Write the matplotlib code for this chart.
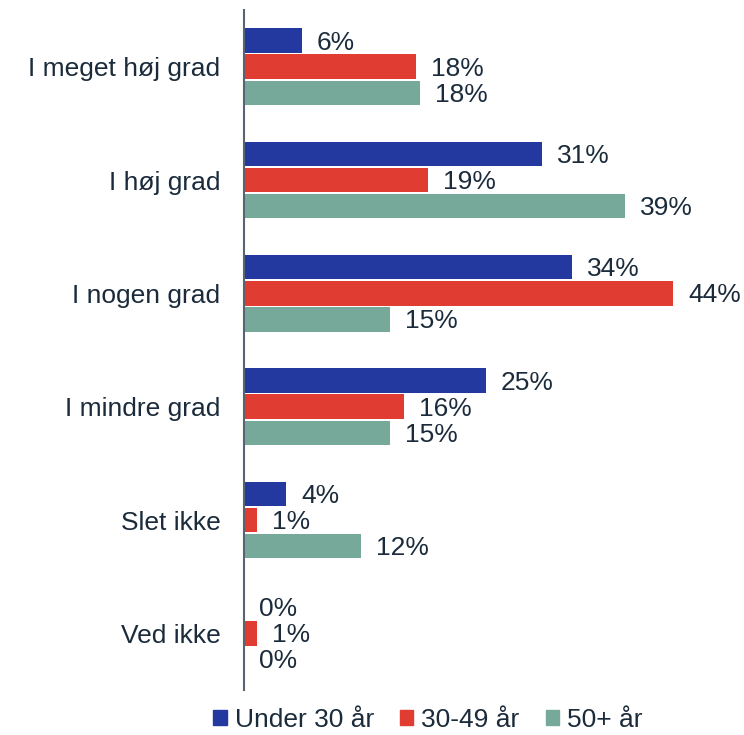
import matplotlib
matplotlib.use("Agg")
import matplotlib.pyplot as plt
from matplotlib.patches import Patch

plt.rcParams['font.family'] = ['Liberation Sans', 'DejaVu Sans']

categories = ["I meget høj grad", "I høj grad", "I nogen grad", "I mindre grad", "Slet ikke", "Ved ikke"]
series_names = ["Under 30 år", "30-49 år", "50+ år"]
under30 = [5.9, 30.6, 33.6, 24.8, 4.3, 0.0]
age30_49 = [17.6, 18.9, 44.0, 16.4, 1.3, 1.3]
age50plus = [18.1, 39.1, 15.0, 15.0, 12.0, 0.0]
colors = ["#24399F", "#E03C31", "#76A99A"]
text_color = "#1B2B3B"

series = [under30, age30_49, age50plus]
FS = 19

fig = plt.figure(figsize=(7.44, 7.35), dpi=100)
ax = fig.add_axes([244/744, 45/735, (740-244)/744, 680/735])

offsets = [-0.23, 0.0, 0.23]
bh = 0.215
for vals, off, col in zip(series, offsets, colors):
    ys = [i + off for i in range(len(categories))]
    ax.barh(ys, vals, height=bh, color=col)
    for y, v in zip(ys, vals):
        ax.annotate(f"{round(v):.0f}%", xy=(v, y), xytext=(15, -2), textcoords='offset pixels',
                    va='center', ha='left', fontsize=FS, color=text_color)

ax.set_xlim(0, (740-244)/9.75)
ax.set_ylim(len(categories) - 0.5, -0.5)
ax.set_yticks(range(len(categories)))
ax.set_yticklabels(categories, fontsize=FS, color=text_color)
ax.tick_params(axis='y', length=0, pad=17)
ax.set_xticks([])
for s in ['top', 'right', 'bottom']:
    ax.spines[s].set_visible(False)
ax.spines['left'].set_color("#5A6470")
ax.spines['left'].set_linewidth(1.5)

handles = [Patch(color=c, label=n) for c, n in zip(colors, series_names)]
fig.legend(handles=handles, loc='center', bbox_to_anchor=(428/744, 1 - 720/735), ncol=3,
           frameon=False, fontsize=FS, handlelength=0.5, handleheight=0.5,
           handletextpad=0.3, columnspacing=1.0, labelcolor=text_color,
           borderpad=0, borderaxespad=0)

fig.savefig("out.png", dpi=100)
